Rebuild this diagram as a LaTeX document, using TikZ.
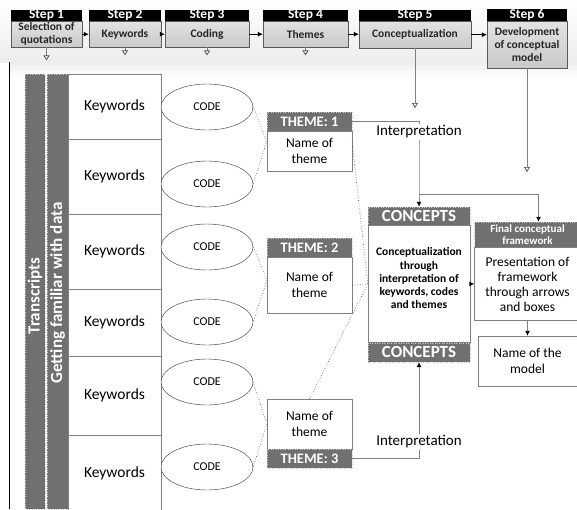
\documentclass[tikz,border=0pt]{standalone}
\usepackage{fontspec}
\setmainfont{Carlito}
\usetikzlibrary{arrows.meta,shapes.geometric,positioning,calc}
\definecolor{bargray}{RGB}{112,112,112}
\definecolor{linegray}{RGB}{128,128,128}

\tikzset{
  stephead/.style={fill=black, text=white, inner sep=0pt, minimum height=11pt,
    font=\bfseries\fontsize{13.5}{13.5}\selectfont},
  stepbody/.style={draw=black!65, top color=gray!22, bottom color=gray!42, inner sep=1pt,
    align=center, text=black!85, font=\bfseries\fontsize{11.5}{13}\selectfont},
  kwbox/.style={draw=linegray, fill=white, minimum width=93pt, inner sep=0pt,
    font=\fontsize{15.5}{17}\selectfont},
  codeell/.style={ellipse, draw=black!80, fill=white, minimum width=92pt, minimum height=46pt,
    inner sep=0pt, font=\fontsize{12}{14}\selectfont},
  greybar/.style={fill=bargray, draw=gray!40, dotted, rotate=90, text=white, inner sep=0pt,
    font=\bfseries\fontsize{17}{17}\selectfont},
  darkhead/.style={fill=bargray, draw=gray!40, dotted, text=white, inner sep=0pt, align=center},
  whitebox/.style={draw=linegray, fill=white, inner sep=0pt, align=center},
  conn/.style={draw=linegray, line width=0.9pt},
  blackarrow/.style={-{Latex[length=5pt,width=5pt,color=black]}},
  openarrow/.style={draw=linegray, line width=0.7pt, -{Triangle[open,length=5pt,width=6pt,color=black!70]}},
  dotlink/.style={draw=black!75, dotted, line width=0.6pt},
  interp/.style={inner sep=1pt, font=\fontsize{15}{17}\selectfont}
}

\begin{document}
\begin{tikzpicture}[x=1pt,y=-1pt]
\useasboundingbox (0,0) rectangle (577,509);

% background of the step bar
\shade[top color=white, bottom color=gray!14] (0,0) rectangle (577,62);
\shade[top color=gray!14, bottom color=white] (9,62) rectangle (577,77);
\draw[black, line width=0.8pt] (9,62) -- (9,509);

% steps
\foreach \n/\x/\w/\h/\txt in {1/46.5/71/26/{Selection of\\quotations}, 2/125/72/26/Keywords,
    3/207/84/26/Coding, 4/305.5/85/26/Themes, 5/415/112/27/Conceptualization,
    6/527/80/47/{Development\\of conceptual\\model}}
{
  \node[stepbody, minimum width=\w pt, minimum height=\h pt, anchor=north] (s\n) at (\x,21) {\txt};
  \node[stephead, minimum width=\w pt, anchor=south] (h\n) at (s\n.north) {Step \n};
}
\foreach \a/\b in {1/2,2/3,3/4,4/5,5/6}
  \draw[black, line width=0.8pt, blackarrow] (s\a.east) -- (s\a.east -| s\b.west);

\foreach \n/\l in {1/13,2/8,3/8,4/8}
{
  \coordinate (d\n) at ($(s\n.south)+(0,\l)$);
  \draw[openarrow] (s\n.south) -- (d\n);
}
\coordinate (d5) at (415,108);
\coordinate (d6) at (527,172);
\draw[openarrow] (s5.south) -- (d5);
\draw[openarrow] (s6.south) -- (d6);

% side bars
\node[greybar, minimum width=435pt, minimum height=20pt] (trans) at (35,291.5) {Transcripts\hspace*{9pt}};
\node[greybar, minimum width=435pt, minimum height=21pt] (fam) at (57.5,291.5) {Getting familiar with data\hspace*{3pt}};

% keywords and codes
\foreach \i/\y/\h in {1/106.5/65, 2/176.5/75, 3/251.5/75, 4/322.5/67, 5/395.5/79, 6/473.5/77}
  \node[kwbox, minimum height=\h pt] (kw\i) at (114.5,\y) {Keywords};
\foreach \i/\y in {1/107, 2/184, 3/247, 4/322, 5/382, 6/467}
  \node[codeell] (c\i) at (207,\y) {CODE};

% themes
\node[darkhead, minimum width=85pt, minimum height=19pt, font=\bfseries\fontsize{14.5}{14.5}\selectfont] (t1h) at (309.5,121.5) {THEME: 1};
\node[whitebox, minimum width=85pt, minimum height=40pt, anchor=north, font=\fontsize{13.5}{16}\selectfont] (t1b) at (t1h.south) {Name of\\theme};
\node[darkhead, minimum width=85pt, minimum height=19pt, font=\bfseries\fontsize{14.5}{14.5}\selectfont] (t2h) at (309.5,247.5) {THEME: 2};
\node[whitebox, minimum width=85pt, minimum height=56pt, anchor=north, font=\fontsize{13.5}{16}\selectfont] (t2b) at (t2h.south) {Name of\\theme};
\node[whitebox, minimum width=85pt, minimum height=50pt, font=\fontsize{13.5}{16}\selectfont] (t3b) at (309.5,424) {Name of\\theme};
\node[darkhead, minimum width=85pt, minimum height=19pt, anchor=north, font=\bfseries\fontsize{14.5}{14.5}\selectfont] (t3h) at (t3b.south) {THEME: 3};

\draw[dotlink] (c1.east) -- ([yshift=10pt]t1b.west) -- (c2.east);
\draw[dotlink] (c3.east) -- ([yshift=5pt]t2b.west) -- (c4.east);
\draw[dotlink] (c5.east) -- (t3b.west) -- (c6.east);

% concepts
\node[darkhead, minimum width=102pt, minimum height=18pt, font=\bfseries\fontsize{17}{17}\selectfont] (k1) at (419,216) {CONCEPTS};
\node[whitebox, minimum width=102pt, minimum height=117pt, anchor=north, font=\bfseries\fontsize{11.5}{13.3}\selectfont] (kb) at (k1.south) {Conceptualization\\through\\interpretation of\\keywords, codes\\and themes\\[-2pt]};
\node[darkhead, minimum width=102pt, minimum height=19pt, anchor=north, font=\bfseries\fontsize{17}{17}\selectfont] (k2) at (kb.south) {CONCEPTS};

\draw[dotlink] ([yshift=8pt]t1b.east) -- (kb.west);
\draw[dotlink] (t2b.east) -- (kb.west);
\draw[dotlink] (t3b.north) -- (kb.west);

% framework and model
\node[darkhead, minimum width=106pt, minimum height=25pt, font=\bfseries\fontsize{11}{12.5}\selectfont] (fh) at (527.5,234.5) {Final conceptual\\framework};
\node[whitebox, minimum width=106pt, minimum height=73pt, anchor=north, font=\fontsize{13.5}{15}\selectfont] (fb) at (fh.south) {Presentation of\\framework\\through arrows\\and boxes};
\node[whitebox, minimum width=99pt, minimum height=50pt, font=\fontsize{13.5}{16}\selectfont] (model) at (527.5,361) {Name of the\\model};

% interpretation links
\node[interp] (i1) at (419,132) {Interpretation};
\node[interp] (i3) at (419,442) {Interpretation};
\coordinate (j1) at (419,194);
\draw[conn] (t1h.east) -| (i1.north);
\draw[conn, blackarrow] (i1.south) -- (j1) -- (k1.north);
\draw[conn, blackarrow] (j1) -| ([xshift=11pt]fh.north);
\draw[conn] (t3h.east) -| (i3.south);
\draw[conn, blackarrow] (i3.north) -- (k2.south);
\draw[conn, blackarrow] (kb.east) -- (fb.west);
\draw[conn, blackarrow] (fb.south) -- (model.north);
\end{tikzpicture}
\end{document}
